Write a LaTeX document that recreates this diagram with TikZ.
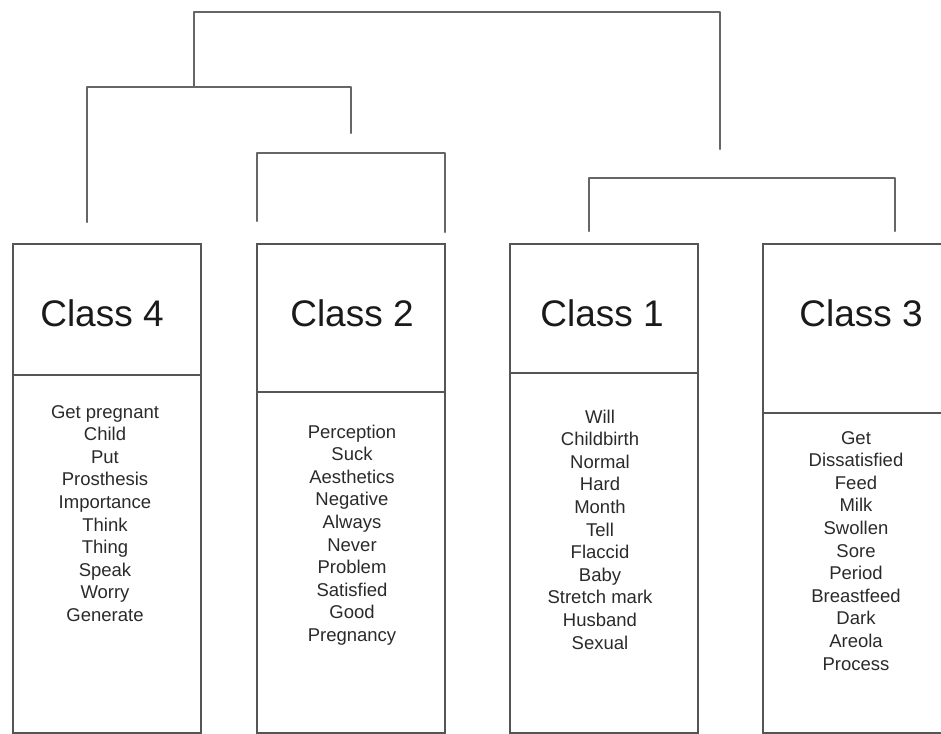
\documentclass[tikz,border=0pt]{standalone}
\usepackage{fontspec}
\setmainfont{Liberation Sans}
\definecolor{boxgray}{HTML}{555555}
\definecolor{treegray}{HTML}{666666}
\definecolor{labelcol}{HTML}{1A1A1A}
\definecolor{wordcol}{HTML}{2A2A2A}
\begin{document}
\begin{tikzpicture}[x=1pt,y=-1pt,
  boxline/.style={draw=boxgray, line width=1.8pt, inner sep=0pt, outer sep=0pt, anchor=north west},
  treeline/.style={draw=treegray, line width=2.2pt, line cap=round, line join=round},
  classlabel/.style={font=\fontsize{37}{41}\selectfont, text=labelcol, anchor=base, inner sep=0pt},
  wordlabel/.style={font=\fontsize{18.5}{22}\selectfont, text=wordcol, anchor=base, inner sep=0pt}]
\useasboundingbox (0,0) rectangle (941,733);

% boxes
\node[boxline, minimum width=188pt, minimum height=131pt] (h4) at (13,244) {};
\node[boxline, minimum width=188pt, minimum height=358pt] (b4) at (h4.south west) {};
\node[boxline, minimum width=188pt, minimum height=148pt] (h2) at (257,244) {};
\node[boxline, minimum width=188pt, minimum height=341pt] (b2) at (h2.south west) {};
\node[boxline, minimum width=188pt, minimum height=129pt] (h1) at (510,244) {};
\node[boxline, minimum width=188pt, minimum height=360pt] (b1) at (h1.south west) {};
\node[boxline, minimum width=200pt, minimum height=169pt] (h3) at (763,244) {};
\node[boxline, minimum width=200pt, minimum height=320pt] (b3) at (h3.south west) {};

% class labels
\node[classlabel] (l4) at (102,326) {Class 4};
\node[classlabel] (l2) at (352,326) {Class 2};
\node[classlabel] (l1) at (602,326) {Class 1};
\node[classlabel] (l3) at (861,326) {Class 3};

% word lists
\foreach \w [count=\i] in {Get pregnant,Child,Put,Prosthesis,Importance,Think,Thing,Speak,Worry,Generate}
  \node[wordlabel] (w4\i) at (105,{418+(\i-1)*22.6}) {\w};
\foreach \w [count=\i] in {Perception,Suck,Aesthetics,Negative,Always,Never,Problem,Satisfied,Good,Pregnancy}
  \node[wordlabel] (w2\i) at (352,{438+(\i-1)*22.6}) {\w};
\foreach \w [count=\i] in {Will,Childbirth,Normal,Hard,Month,Tell,Flaccid,Baby,Stretch mark,Husband,Sexual}
  \node[wordlabel] (w1\i) at (600,{423+(\i-1)*22.6}) {\w};
\foreach \w [count=\i] in {Get,Dissatisfied,Feed,Milk,Swollen,Sore,Period,Breastfeed,Dark,Areola,Process}
  \node[wordlabel] (w3\i) at (856,{444+(\i-1)*22.6}) {\w};

% dendrogram
\coordinate (c4) at (87,222);
\coordinate (c2a) at (257,221);
\coordinate (c2b) at (445,232);
\coordinate (c1) at (589,231);
\coordinate (c3) at (895,231);
\coordinate (m2) at (351,133);
\coordinate (m13) at (720,149);
\coordinate (m42) at (194,87);

\draw[treeline] (c2a) |- (445,153) -- (c2b);
\draw[treeline] (c1) |- (895,178) -- (c3);
\draw[treeline] (c4) |- (351,87) -- (m2);
\draw[treeline] (m42) |- (720,12) -- (m13);
\end{tikzpicture}
\end{document}
